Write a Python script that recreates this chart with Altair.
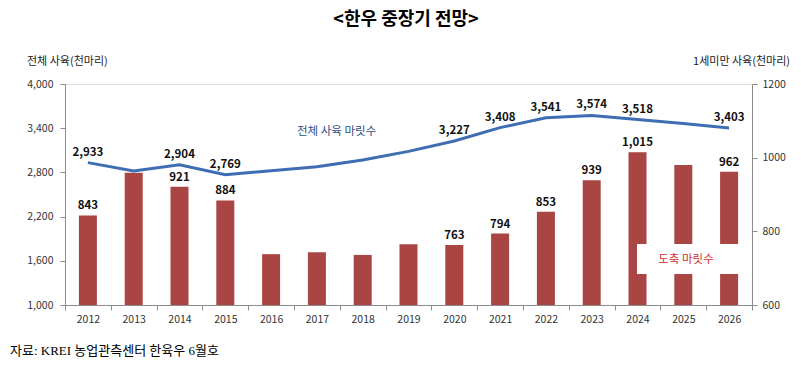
import altair as alt
import pandas as pd

years = [str(y) for y in range(2012, 2027)]
total_herd = [2933, 2818, 2904, 2769, 2822, 2877, 2967, 3085, 3227, 3408, 3541, 3574, 3518, 3465, 3403]
slaughter = [843, 959, 921, 884, 738, 743, 736, 765, 763, 794, 853, 939, 1015, 980, 962]
labeled_years = ["2012", "2014", "2015", "2020", "2021", "2022", "2023", "2024", "2026"]

title_text = ["<한우 중장기 전망>"]
left_axis_title = ["전체 사육(천마리)"]
right_axis_title = ["1세미만 사육(천마리)"]
line_legend = ["전체 사육 마릿수"]
bar_legend = ["도축 마릿수"]
source_text = ["자료: KREI 농업관측센터 한육우 6월호"]

df = pd.DataFrame({"year": years, "total": total_herd, "slaughter": slaughter})
df["lab"] = df["year"].isin(labeled_years)

FONT = "Noto Sans CJK KR"
BAR = "#A94543"
LINE = "#3F6DB3"
AX = "#8C8C8C"

base = alt.Chart(df)

x = alt.X(
    "year:O",
    scale=alt.Scale(paddingInner=0, paddingOuter=0),
    axis=alt.Axis(
        title=None, labelAngle=0, tickBand="extent", tickSize=5,
        labelPadding=4, labelFontSize=10.5, labelColor="#333333",
        labelFont=FONT, domainColor=AX, tickColor=AX,
    ),
)

y_right = alt.Y(
    "slaughter:Q",
    scale=alt.Scale(domain=[600, 1200], zero=False, nice=False),
    axis=alt.Axis(
        orient="right", values=[600, 800, 1000, 1200], format="d", title=None,
        grid=False, tickSize=5, labelPadding=5, labelFontSize=10.5,
        labelColor="#333333", labelFont=FONT, domainColor=AX, tickColor=AX,
    ),
)

y_left = alt.Y(
    "total:Q",
    scale=alt.Scale(domain=[1000, 4000], zero=False, nice=False),
    axis=alt.Axis(
        orient="left", values=[1000, 1600, 2200, 2800, 3400, 4000], format=",.0f",
        title=None, grid=False, tickSize=5, labelPadding=7, labelFontSize=10.5,
        labelColor="#333333", labelFont=FONT, domainColor=AX, tickColor=AX,
    ),
)

bars = base.mark_bar(size=18, color=BAR).encode(x=x, y=y_right, y2=alt.datum(600))
bar_text = base.transform_filter("datum.lab").mark_text(
    dy=-9, font=FONT, fontWeight="bold", fontSize=11.5, color="#111111"
).encode(x=x, y=y_right, text=alt.Text("slaughter:Q", format=","))

line = base.mark_line(color=LINE, strokeWidth=3).encode(x=x, y=y_left)
line_text = base.transform_filter("datum.lab").mark_text(
    dy=-10, font=FONT, fontWeight="bold", fontSize=11.5, color="#111111"
).encode(x=x, y=y_left, text=alt.Text("total:Q", format=","))

left = alt.layer(bars, bar_text)
right = alt.layer(line, line_text)


def note(txt, px, py, **kw):
    return alt.Chart(pd.DataFrame({"t": txt})).mark_text(font=FONT, **kw).encode(
        x=alt.value(px), y=alt.value(py), text="t:N"
    )


box = alt.Chart(pd.DataFrame({"t": bar_legend})).mark_rect(color="white").encode(
    x=alt.value(572), x2=alt.value(674), y=alt.value(160), y2=alt.value(190)
)

notes = alt.layer(
    note(title_text, 341, -64, fontSize=18, fontWeight="bold", color="#000000", align="center", baseline="middle"),
    note(left_axis_title, -38, -22, fontSize=11, color="#222222", align="left", baseline="middle"),
    note(right_axis_title, 725, -22, fontSize=11, color="#222222", align="right", baseline="middle"),
    note(line_legend, 232, 48, fontSize=11.5, color="#2F4D86", align="left", baseline="middle"),
    box,
    note(bar_legend, 621, 176, fontSize=11.5, color="#D0302E", align="center", baseline="middle"),
    alt.Chart(pd.DataFrame({"t": source_text})).mark_text(
        font="Liberation Serif, Noto Sans CJK KR", fontSize=13, color="#000000",
        align="left", baseline="middle"
    ).encode(x=alt.value(-55), y=alt.value(267), text="t:N"),
)

chart = alt.layer(left, right, notes).resolve_scale(y="independent").properties(
    width=687, height=221,
    autosize=alt.AutoSizeParams(type="none"),
    padding={"left": 57, "top": 76, "right": 41, "bottom": 68},
).configure_view(stroke=None).configure(background="white")

chart.save("out.html", embed_options={"renderer": "svg", "actions": False})
